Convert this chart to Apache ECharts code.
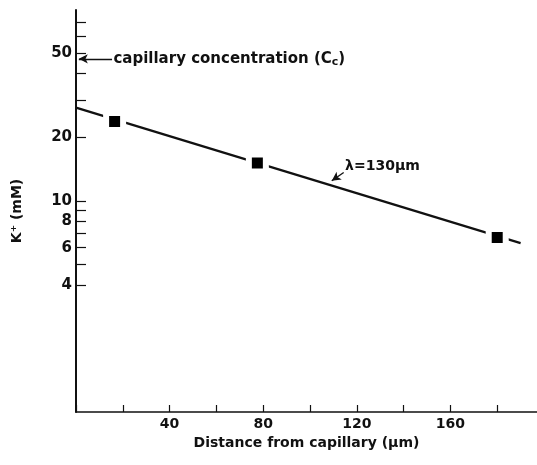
<!DOCTYPE html>
<html>
<head>
<meta charset="utf-8">
<script src="https://cdn.jsdelivr.net/npm/echarts@6/dist/echarts.min.js"></script>
<style>html,body{margin:0;padding:0;background:#fff}#c{width:537px;height:465px}</style>
</head>
<body>
<div id="c"></div>
<script>
// measured points
const distances = [16.5, 77.5, 180];
const kValues = [23.7, 15.1, 6.7];
// fitted line (λ = 130 µm) endpoints
const fitX = [0, 190];
const fitK = [27.6, 6.3];
// axis ticks and labels
const xTickValues = [0, 20, 40, 60, 80, 100, 120, 140, 160, 180];
const xLabelValues = [40, 80, 120, 160];
const yTickValues = [4, 5, 6, 7, 8, 9, 10, 20, 30, 40, 50, 60, 70];
const yLabelValues = [4, 6, 8, 10, 20, 50];
const capillaryK = 47;
const lambdaText = 'λ=130µm';

const font = 'DejaVu Sans';
const chart = echarts.init(document.getElementById('c'), null, {renderer: 'canvas'});
chart.setOption({
  animation: false,
  backgroundColor: '#fff',
  grid: {left: 76, right: 0, top: 10, bottom: 53, containLabel: false},
  xAxis: {
    type: 'value', min: 0, max: 197, interval: 20,
    name: 'Distance from capillary (µm)', nameLocation: 'middle', nameGap: 21,
    nameTextStyle: {fontFamily: font, fontSize: 14, fontWeight: 'bold', color: '#111'},
    axisLine: {lineStyle: {color: '#111', width: 1.5}},
    axisTick: {inside: true, length: 7, lineStyle: {color: '#111', width: 1.2}, customValues: xTickValues},
    axisLabel: {customValues: xLabelValues, fontFamily: font, fontSize: 14, fontWeight: 'bold', color: '#111', margin: 5},
    splitLine: {show: false}
  },
  yAxis: {
    type: 'log', logBase: 10, min: 1, max: 80,
    name: 'K⁺ (mM)', nameLocation: 'middle', nameGap: 52, nameRotate: 90,
    nameTextStyle: {fontFamily: font, fontSize: 14, fontWeight: 'bold', color: '#111'},
    axisLine: {show: true, lineStyle: {color: '#111', width: 2}},
    axisTick: {show: true, inside: true, length: 10, lineStyle: {color: '#111', width: 1.2}, customValues: yTickValues},
    axisLabel: {customValues: yLabelValues, fontFamily: font, fontSize: 15, fontWeight: 'bold', color: '#111', margin: 4},
    splitLine: {show: false}
  },
  series: [
    {
      type: 'line', data: fitX.map((x, i) => [x, fitK[i]]), symbol: 'none',
      lineStyle: {color: '#111', width: 2.2}, z: 2,
      markLine: {
        silent: true, symbol: ['none', 'arrow'], symbolSize: [7, 9],
        lineStyle: {color: '#111', width: 1.3, type: 'solid'},
        label: {show: false},
        data: [
          [{coord: [15.4, capillaryK]}, {coord: [1.2, capillaryK]}],
          [{coord: [114.4, 13.6]}, {coord: [109.3, 12.44]}]
        ]
      },
      markPoint: {
        silent: true, symbol: 'circle', symbolSize: 0,
        data: [
          {coord: [16, capillaryK], label: {show: true, position: 'right', distance: 0,
            formatter: 'capillary concentration (C{s|c})',
            rich: {s: {fontFamily: font, fontSize: 11, fontWeight: 'bold', color: '#111', verticalAlign: 'bottom', padding: [7, 0, 0, 0]}},
            fontFamily: font, fontSize: 15, fontWeight: 'bold', color: '#111'}},
          {coord: [115, 14.5], label: {show: true, position: 'right', distance: 0,
            formatter: lambdaText, fontFamily: font, fontSize: 14, fontWeight: 'bold', color: '#111'}}
        ]
      }
    },
    {
      type: 'scatter', data: distances.map((x, i) => [x, kValues[i]]),
      symbol: 'rect', symbolSize: 17,
      itemStyle: {color: '#000', borderColor: '#fff', borderWidth: 6, opacity: 1}, z: 3
    }
  ]
});
</script>
</body>
</html>
